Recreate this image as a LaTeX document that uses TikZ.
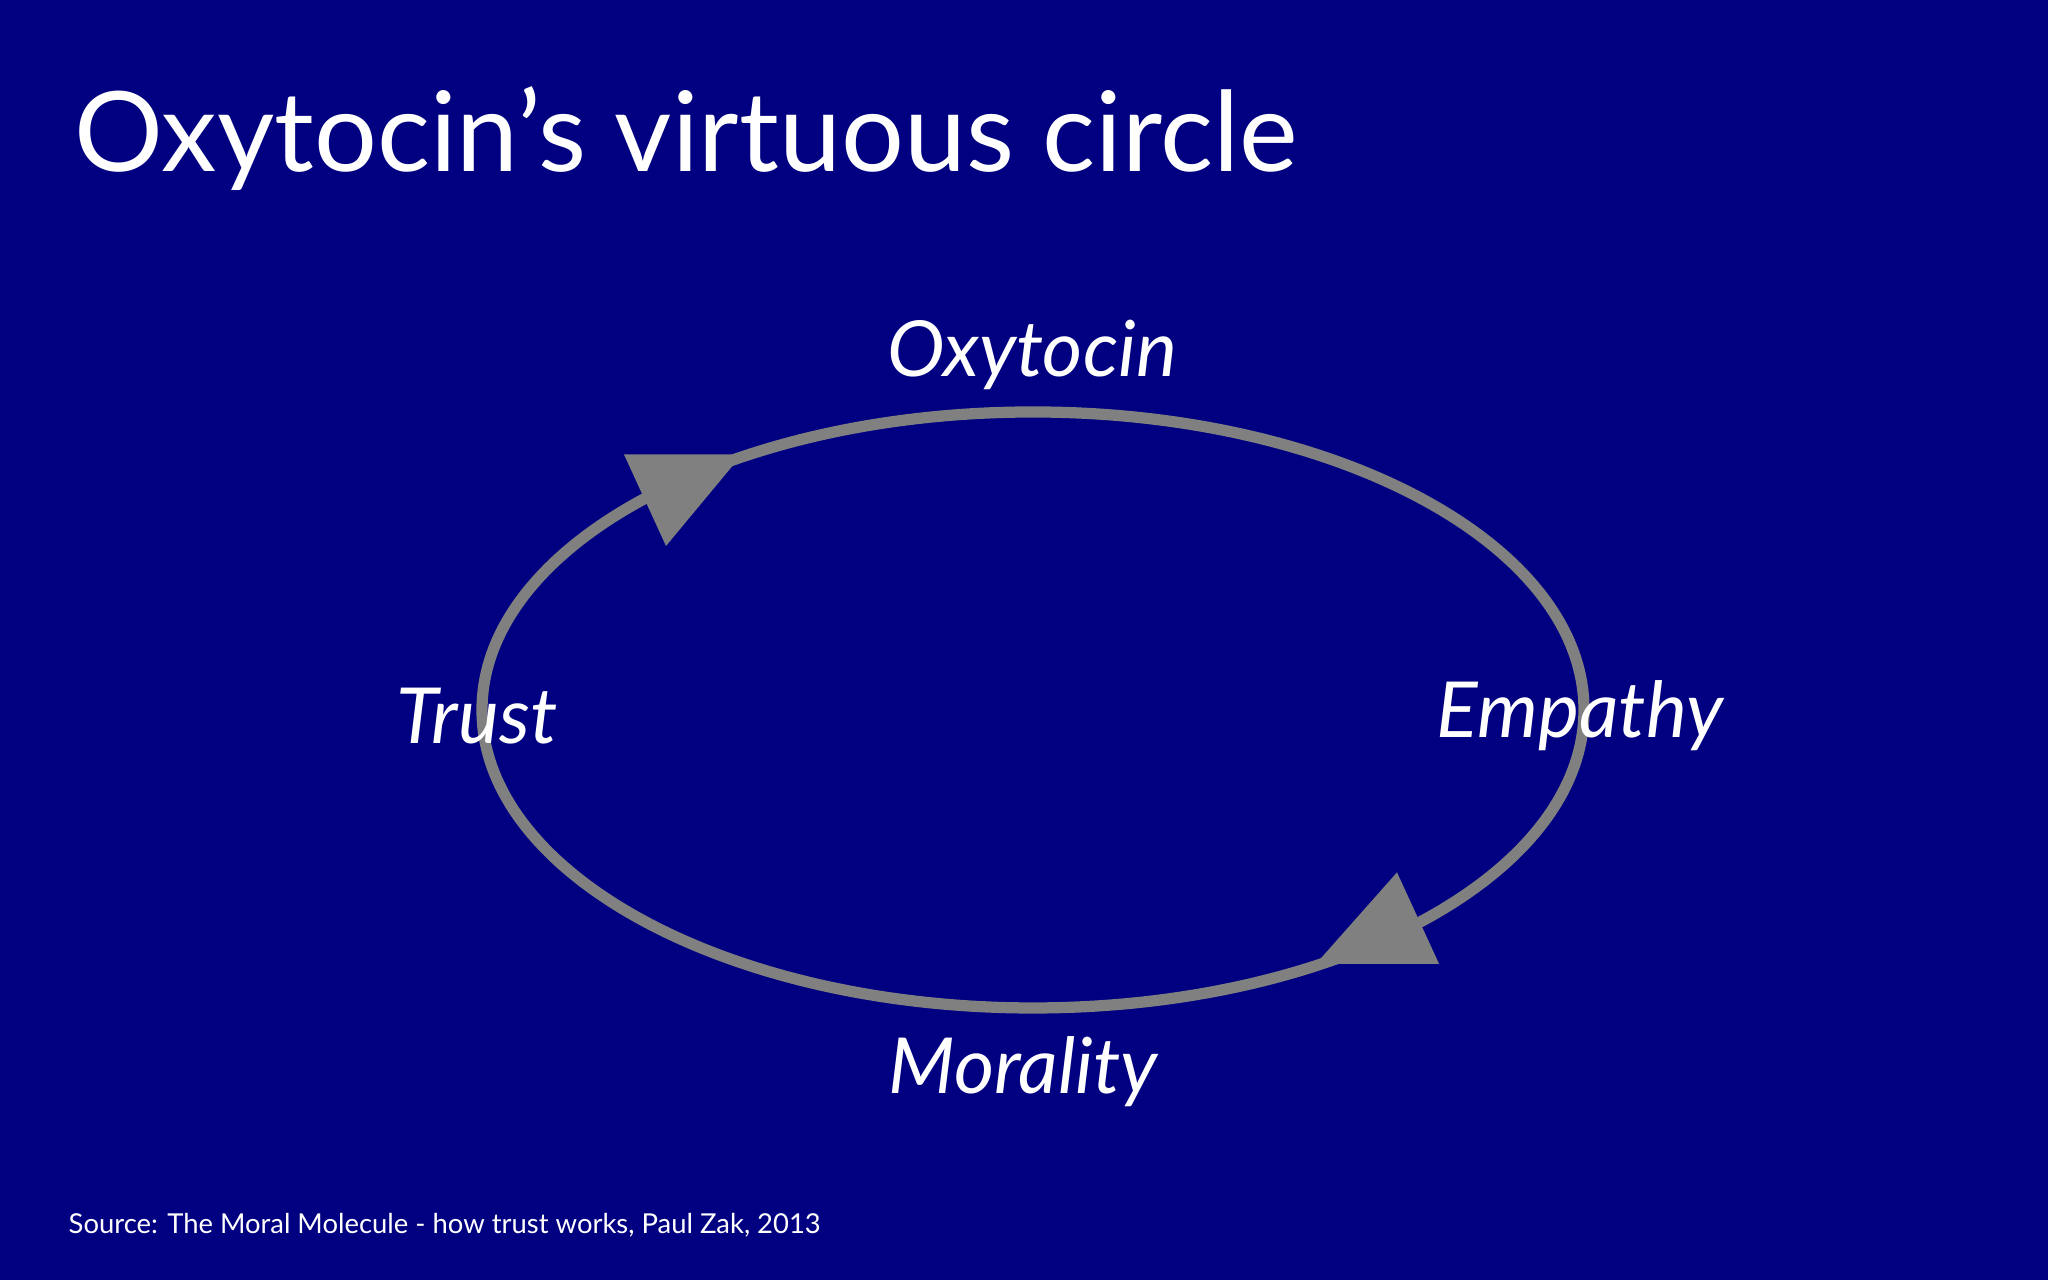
\documentclass[tikz,border=0pt]{standalone}
\usepackage{fontspec}
\setmainfont{Lato}
\definecolor{bg}{HTML}{000080}
\definecolor{ring}{HTML}{808080}
\begin{document}
\begin{tikzpicture}[
  lbl/.style={text=white,font=\itshape\fontsize{22}{26}\selectfont,inner sep=0pt}]
\fill[bg] (0,0) rectangle (20.48,12.8);
\useasboundingbox (0,0) rectangle (20.48,12.8);
\node[anchor=base west,text=white,font=\fontsize{31.6}{36}\selectfont,inner sep=0pt] (title) at (0.74,11.08) {Oxytocin’s virtuous circle};
\draw[ring,line width=3.2pt] (10.33,5.70) ellipse (5.51 and 2.98);
\fill[ring] (6.24,8.255) -- (7.42,8.255) -- (6.66,7.34) -- cycle;
\fill[ring] (13.97,4.076) -- (14.39,3.162) -- (13.16,3.162) -- cycle;
\node[lbl] (oxy) at (10.32,9.25) {Oxytocin};
\node[lbl] (trust) at (4.77,5.64) {Trust};
\node[lbl] (emp) at (15.80,5.64) {Empathy};
\node[lbl] (mor) at (10.23,2.08) {Morality};
\node[anchor=west,text=white,font=\fontsize{7.8}{10}\selectfont,inner sep=0pt] (src) at (0.68,0.55) {Source: The Moral Molecule - how trust works, Paul Zak, 2013};
\end{tikzpicture}
\end{document}
